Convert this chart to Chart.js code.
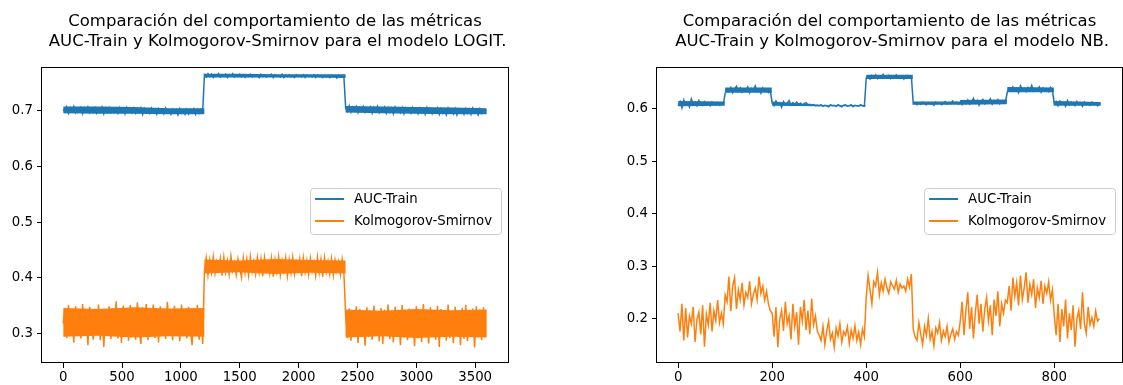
<!DOCTYPE html>
<html>
<head>
<meta charset="utf-8">
<script src="https://cdn.jsdelivr.net/npm/chart.js@4.4.1/dist/chart.umd.min.js"></script>
<style>
    html, body { margin: 0; padding: 0; background: #fff; }
    body { width: 1123px; height: 385px; position: relative; overflow: hidden; }
    canvas { position: absolute; top: 0; }
    #logitChart { left: 0; }
    #nbChart { left: 615px; }
</style>
</head>
<body>
<canvas id="logitChart" width="540" height="385"></canvas>
<canvas id="nbChart" width="508" height="385"></canvas>
<script>
// iterations between two stored samples
const stepLogit = 15;
const stepNB = 4;

const seriesLabels = ['AUC-Train', 'Kolmogorov-Smirnov'];

const titleLogit = ['Comparación del comportamiento de las métricas', ' AUC-Train y Kolmogorov-Smirnov para el modelo LOGIT.'];
const titleNB = ['Comparación del comportamiento de las métricas', ' AUC-Train y Kolmogorov-Smirnov para el modelo NB.'];

const xTicksLogit = [0, 500, 1000, 1500, 2000, 2500, 3000, 3500];
const yTicksLogit = [0.3, 0.4, 0.5, 0.6, 0.7];
const xTicksNB = [0, 200, 400, 600, 800];
const yTicksNB = [0.2, 0.3, 0.4, 0.5, 0.6];

// LOGIT model, one value every 15 iterations
const aucLogit = [
    0.703,0.698,0.707,0.696,0.705,0.699,0.708,0.697,0.704,0.700,
    0.706,0.695,0.705,0.699,0.707,0.697,0.704,0.698,0.706,0.696,
    0.703,0.699,0.707,0.695,0.705,0.698,0.706,0.697,0.703,0.700,
    0.705,0.696,0.706,0.698,0.704,0.695,0.706,0.699,0.703,0.697,
    0.705,0.696,0.702,0.699,0.706,0.694,0.704,0.698,0.703,0.696,
    0.705,0.697,0.702,0.694,0.704,0.698,0.703,0.695,0.705,0.697,
    0.701,0.694,0.703,0.697,0.702,0.693,0.704,0.696,0.701,0.694,
    0.703,0.695,0.702,0.697,0.704,0.694,0.702,0.696,0.703,0.699,
    0.765,0.761,0.767,0.762,0.766,0.760,0.765,0.763,0.767,0.761,
    0.764,0.762,0.766,0.760,0.765,0.763,0.767,0.761,0.764,0.762,
    0.766,0.761,0.765,0.760,0.764,0.762,0.766,0.761,0.765,0.763,
    0.764,0.760,0.766,0.762,0.765,0.761,0.764,0.763,0.766,0.760,
    0.765,0.762,0.764,0.761,0.766,0.760,0.764,0.762,0.765,0.761,
    0.763,0.760,0.765,0.762,0.764,0.761,0.765,0.760,0.764,0.762,
    0.763,0.761,0.765,0.760,0.764,0.762,0.763,0.760,0.764,0.761,
    0.763,0.760,0.764,0.762,0.763,0.759,0.764,0.761,0.763,0.760,
    0.705,0.699,0.709,0.698,0.707,0.701,0.708,0.697,0.706,0.700,
    0.708,0.698,0.705,0.701,0.707,0.696,0.706,0.699,0.708,0.697,
    0.704,0.700,0.707,0.696,0.706,0.698,0.705,0.695,0.707,0.699,
    0.704,0.697,0.706,0.695,0.705,0.699,0.703,0.696,0.706,0.698,
    0.704,0.695,0.705,0.697,0.703,0.694,0.706,0.698,0.704,0.695,
    0.702,0.697,0.705,0.694,0.704,0.696,0.703,0.693,0.705,0.697,
    0.702,0.695,0.704,0.693,0.703,0.697,0.702,0.694,0.704,0.696,
    0.703,0.694,0.705,0.697,0.702,0.693,0.704,0.696,0.702,0.699
];
const ksLogit = [
    0.318,0.346,0.292,0.351,0.301,0.337,0.284,0.349,0.309,0.342,
    0.291,0.353,0.298,0.344,0.279,0.348,0.322,0.289,0.341,0.297,
    0.352,0.288,0.336,0.276,0.343,0.302,0.349,0.290,0.345,0.307,
    0.358,0.291,0.340,0.283,0.350,0.299,0.334,0.287,0.351,0.303,
    0.344,0.289,0.356,0.311,0.281,0.347,0.296,0.353,0.288,0.338,
    0.300,0.352,0.292,0.345,0.284,0.349,0.297,0.341,0.290,0.357,
    0.306,0.343,0.288,0.350,0.298,0.336,0.286,0.352,0.301,0.344,
    0.291,0.348,0.309,0.279,0.346,0.297,0.351,0.289,0.342,0.281,
    0.412,0.436,0.405,0.432,0.410,0.438,0.408,0.429,0.415,0.435,
    0.404,0.437,0.411,0.431,0.407,0.439,0.413,0.427,0.406,0.434,
    0.418,0.401,0.436,0.409,0.433,0.405,0.438,0.412,0.430,0.407,
    0.436,0.410,0.434,0.403,0.437,0.414,0.428,0.408,0.435,0.402,
    0.433,0.411,0.438,0.406,0.431,0.413,0.436,0.404,0.432,0.409,
    0.437,0.407,0.429,0.415,0.434,0.403,0.436,0.410,0.431,0.406,
    0.435,0.412,0.428,0.404,0.437,0.409,0.433,0.402,0.436,0.411,
    0.430,0.407,0.434,0.405,0.432,0.413,0.429,0.406,0.433,0.408,
    0.331,0.292,0.345,0.287,0.340,0.298,0.349,0.283,0.344,0.301,
    0.336,0.278,0.347,0.294,0.341,0.289,0.350,0.297,0.338,0.286,
    0.346,0.281,0.343,0.299,0.352,0.290,0.337,0.284,0.348,0.295,
    0.342,0.279,0.351,0.293,0.339,0.288,0.345,0.300,0.336,0.277,
    0.349,0.291,0.343,0.285,0.353,0.296,0.340,0.282,0.347,0.294,
    0.338,0.289,0.350,0.276,0.344,0.298,0.341,0.287,0.352,0.292,
    0.337,0.283,0.348,0.299,0.342,0.279,0.346,0.290,0.351,0.286,
    0.339,0.295,0.345,0.275,0.349,0.293,0.343,0.288,0.347,0.320
];

// dense core of the noise (where the raw trace is a solid band)
const bandXLogit = [0, 300, 600, 900, 1199, 1200, 1500, 1800, 2100, 2399, 2400, 2700, 3000, 3300, 3599];
const aucLogitLow = [0.696, 0.695, 0.695, 0.694, 0.694, 0.760, 0.760, 0.760, 0.760, 0.759, 0.697, 0.696, 0.695, 0.694, 0.694];
const aucLogitHigh = [0.708, 0.708, 0.707, 0.705, 0.705, 0.767, 0.767, 0.766, 0.766, 0.766, 0.709, 0.708, 0.707, 0.706, 0.705];
const ksLogitLow = [0.294, 0.296, 0.293, 0.295, 0.294, 0.408, 0.410, 0.407, 0.409, 0.408, 0.293, 0.295, 0.292, 0.294, 0.293];
const ksLogitHigh = [0.346, 0.344, 0.347, 0.345, 0.346, 0.433, 0.431, 0.434, 0.432, 0.431, 0.343, 0.341, 0.344, 0.342, 0.343];

// NB model, one value every 4 iterations
const aucNB = [
    0.606,0.614,0.602,0.617,0.608,0.612,0.604,0.619,0.609,0.613,
    0.606,0.616,0.610,0.607,0.614,0.609,0.611,0.606,0.613,0.610,
    0.608,0.612,0.607,0.611,0.609,
    0.630,0.636,0.633,0.641,0.631,0.638,0.643,0.634,0.640,0.632,
    0.637,0.635,0.642,0.631,0.639,0.636,0.644,0.633,0.638,0.630,
    0.640,0.635,0.637,0.631,0.634,
    0.611,0.606,0.615,0.609,0.612,0.603,0.614,0.608,0.611,0.616,
    0.607,0.612,0.609,0.613,0.608,0.611,0.607,0.610,0.612,0.608,
    0.609,0.607,0.608,0.606,0.607,
    0.606,0.608,0.605,0.607,0.606,0.604,0.608,0.606,0.607,0.605,
    0.608,0.606,0.604,0.607,0.608,0.605,0.606,0.608,0.604,0.607,
    0.606,0.605,0.608,0.606,0.605,
    0.659,0.662,0.657,0.664,0.660,0.665,0.658,0.663,0.661,0.666,
    0.659,0.662,0.664,0.658,0.663,0.660,0.665,0.661,0.659,0.663,
    0.657,0.662,0.664,0.660,0.662,
    0.610,0.612,0.608,0.611,0.609,0.613,0.610,0.608,0.612,0.609,
    0.611,0.607,0.613,0.610,0.612,0.608,0.611,0.614,0.609,0.612,
    0.610,0.615,0.611,0.613,0.609,
    0.612,0.608,0.615,0.610,0.617,0.609,0.613,0.620,0.611,0.616,
    0.607,0.614,0.618,0.610,0.615,0.612,0.619,0.609,0.616,0.613,
    0.618,0.610,0.615,0.612,0.614,
    0.632,0.638,0.634,0.642,0.636,0.640,0.631,0.644,0.637,0.639,
    0.633,0.641,0.636,0.645,0.634,0.639,0.637,0.642,0.632,0.640,
    0.636,0.638,0.633,0.641,0.635,
    0.609,0.614,0.606,0.615,0.610,0.612,0.605,0.616,0.608,0.613,
    0.610,0.606,0.614,0.609,0.612,0.605,0.613,0.608,0.611,0.607,
    0.613,0.609,0.611,0.606,0.610
];
const ksNB = [
    0.210,0.175,0.228,0.158,0.220,0.164,0.205,0.190,0.222,0.155,
    0.198,0.212,0.170,0.225,0.146,0.208,0.188,0.230,0.175,0.215,
    0.196,0.235,0.192,0.210,0.190,
    0.245,0.232,0.280,0.214,0.262,0.278,0.218,0.255,0.236,0.268,
    0.226,0.250,0.240,0.271,0.228,0.246,0.258,0.236,0.280,0.248,
    0.262,0.235,0.252,0.228,0.215,
    0.210,0.165,0.222,0.145,0.198,0.215,0.176,0.232,0.190,0.205,
    0.160,0.228,0.185,0.212,0.150,0.222,0.195,0.235,0.178,0.215,
    0.170,0.238,0.188,0.205,0.175,
    0.168,0.158,0.185,0.150,0.176,0.195,0.160,0.172,0.145,0.182,
    0.166,0.190,0.155,0.175,0.168,0.184,0.152,0.178,0.162,0.186,
    0.158,0.174,0.150,0.180,0.165,
    0.240,0.282,0.255,0.228,0.270,0.262,0.288,0.245,0.268,0.252,
    0.275,0.258,0.248,0.270,0.262,0.256,0.273,0.250,0.266,0.258,
    0.262,0.252,0.275,0.260,0.285,
    0.180,0.165,0.158,0.192,0.170,0.150,0.185,0.168,0.200,0.160,
    0.175,0.148,0.182,0.172,0.192,0.158,0.176,0.165,0.185,0.155,
    0.170,0.180,0.160,0.175,0.168,
    0.195,0.232,0.168,0.215,0.250,0.180,0.222,0.162,0.210,0.245,
    0.190,0.228,0.175,0.218,0.240,0.196,0.225,0.168,0.236,0.205,
    0.252,0.185,0.228,0.210,0.235,
    0.230,0.262,0.215,0.278,0.242,0.268,0.225,0.282,0.236,0.258,
    0.288,0.230,0.265,0.246,0.275,0.220,0.258,0.240,0.272,0.228,
    0.262,0.248,0.270,0.235,0.255,
    0.205,0.168,0.228,0.155,0.218,0.185,0.236,0.162,0.210,0.178,
    0.225,0.146,0.198,0.215,0.180,0.250,0.190,0.172,0.222,0.188,
    0.202,0.185,0.214,0.195,0.200
];

const bandXNB = [0, 99, 100, 199, 200, 299, 300, 399, 400, 499, 500, 599, 600, 699, 700, 799, 800, 899];
const aucNBLow = [0.605, 0.606, 0.631, 0.631, 0.606, 0.605, 0.605, 0.605, 0.657, 0.657, 0.608, 0.608, 0.608, 0.609, 0.632, 0.632, 0.606, 0.606];
const aucNBHigh = [0.615, 0.614, 0.641, 0.641, 0.614, 0.608, 0.607, 0.607, 0.665, 0.665, 0.614, 0.614, 0.617, 0.618, 0.642, 0.641, 0.615, 0.613];

const colors = ['#1f77b4', '#ff7f0e'];
const fontFamily = '"DejaVu Sans", sans-serif';

function toPoints(values, step) {
    return values.map((v, i) => ({ x: i * step, y: v }));
}

function zipPoints(xs, ys) {
    return ys.map((v, i) => ({ x: xs[i], y: v }));
}

// box around the axes + legend inside, matplotlib style
const frameAndLegend = {
    id: 'frameAndLegend',
    afterDraw(chart) {
        const { ctx, chartArea } = chart;
        ctx.save();
        ctx.strokeStyle = '#000';
        ctx.lineWidth = 1;
        ctx.strokeRect(Math.round(chartArea.left) - 0.5, Math.round(chartArea.top) + 0.5,
            Math.round(chartArea.right - chartArea.left) + 1, Math.round(chartArea.bottom - chartArea.top) - 1);

        ctx.font = '13.3px ' + fontFamily;
        const textW = Math.max(...seriesLabels.map((t) => ctx.measureText(t).width));
        const w = textW + 53;
        const h = 46;
        const x0 = chartArea.right - 7 - w;
        const y0 = (chartArea.top + chartArea.bottom) / 2 - h / 2 - 4;
        ctx.beginPath();
        ctx.roundRect(x0 + 0.5, y0 + 0.5, w, h, 3);
        ctx.fillStyle = 'rgba(255,255,255,0.8)';
        ctx.fill();
        ctx.strokeStyle = '#cccccc';
        ctx.stroke();
        seriesLabels.forEach((label, i) => {
            const yy = y0 + 11 + i * 22;
            ctx.strokeStyle = colors[i];
            ctx.lineWidth = 2;
            ctx.beginPath();
            ctx.moveTo(x0 + 5, yy);
            ctx.lineTo(x0 + 34, yy);
            ctx.stroke();
            ctx.fillStyle = '#000';
            ctx.textBaseline = 'middle';
            ctx.fillText(label, x0 + 44, yy + 1);
        });
        ctx.restore();
    },
};

function bandPair(xs, low, high, color) {
    return [
        { data: zipPoints(xs, low), borderWidth: 0, pointRadius: 0, fill: false, borderColor: color },
        { data: zipPoints(xs, high), borderWidth: 0, pointRadius: 0, fill: '-1', backgroundColor: color, borderColor: color },
    ];
}

function makeChart(id, title, lines, bands, xr, yr, xTicks, yTicks, padRight) {
    const ctx = document.getElementById(id).getContext('2d');
    const datasets = [];
    lines.forEach((l, i) => {
        datasets.push({
            label: seriesLabels[i],
            data: toPoints(l.values, l.step),
            borderColor: colors[i],
            borderWidth: 1.5,
            pointRadius: 0,
            fill: false,
        });
    });
    bands.forEach((b) => datasets.push(...bandPair(b.xs, b.low, b.high, colors[b.color])));
    return new Chart(ctx, {
        type: 'line',
        data: { datasets: datasets },
        options: {
            responsive: false,
            animation: false,
            layout: { padding: { left: 0, right: padRight, top: 0, bottom: 0 } },
            scales: {
                x: {
                    type: 'linear',
                    min: xr[0],
                    max: xr[1],
                    afterBuildTicks: (scale) => { scale.ticks = xTicks.map((v) => ({ value: v })); },
                    afterFit: (scale) => { scale.height = 22; },
                    grid: { drawOnChartArea: false, tickLength: 5, color: '#000' },
                    border: { display: false },
                    ticks: {
                        color: '#000',
                        padding: 2,
                        maxRotation: 0,
                        font: { family: fontFamily, size: 13.3 },
                        callback: (v) => String(v),
                    },
                },
                y: {
                    min: yr[0],
                    max: yr[1],
                    afterBuildTicks: (scale) => { scale.ticks = yTicks.map((v) => ({ value: v })); },
                    afterFit: (scale) => { scale.width = 42; },
                    grid: { drawOnChartArea: false, tickLength: 5, color: '#000' },
                    border: { display: false },
                    ticks: {
                        color: '#000',
                        padding: 4,
                        font: { family: fontFamily, size: 13.3 },
                        callback: (v) => v.toFixed(1),
                    },
                },
            },
            plugins: {
                legend: { display: false },
                tooltip: { enabled: false },
                filler: { propagate: false },
                title: {
                    display: true,
                    text: title,
                    fullSize: false,
                    color: '#000',
                    font: { family: fontFamily, size: 16.5, weight: 'normal', lineHeight: 1.212 },
                    padding: { top: 12, bottom: 15 },
                },
            },
        },
        plugins: [frameAndLegend],
    });
}

makeChart('logitChart', titleLogit,
    [{ values: aucLogit, step: stepLogit }, { values: ksLogit, step: stepLogit }],
    [
        { xs: bandXLogit, low: aucLogitLow, high: aucLogitHigh, color: 0 },
        { xs: bandXLogit, low: ksLogitLow, high: ksLogitHigh, color: 1 },
    ],
    [-180, 3779], [0.247, 0.779], xTicksLogit, yTicksLogit, 32);

makeChart('nbChart', titleNB,
    [{ values: aucNB, step: stepNB }, { values: ksNB, step: stepNB }],
    [{ xs: bandXNB, low: aucNBLow, high: aucNBHigh, color: 0 }],
    [-45, 944], [0.115, 0.68], xTicksNB, yTicksNB, 1);
</script>
</body>
</html>
